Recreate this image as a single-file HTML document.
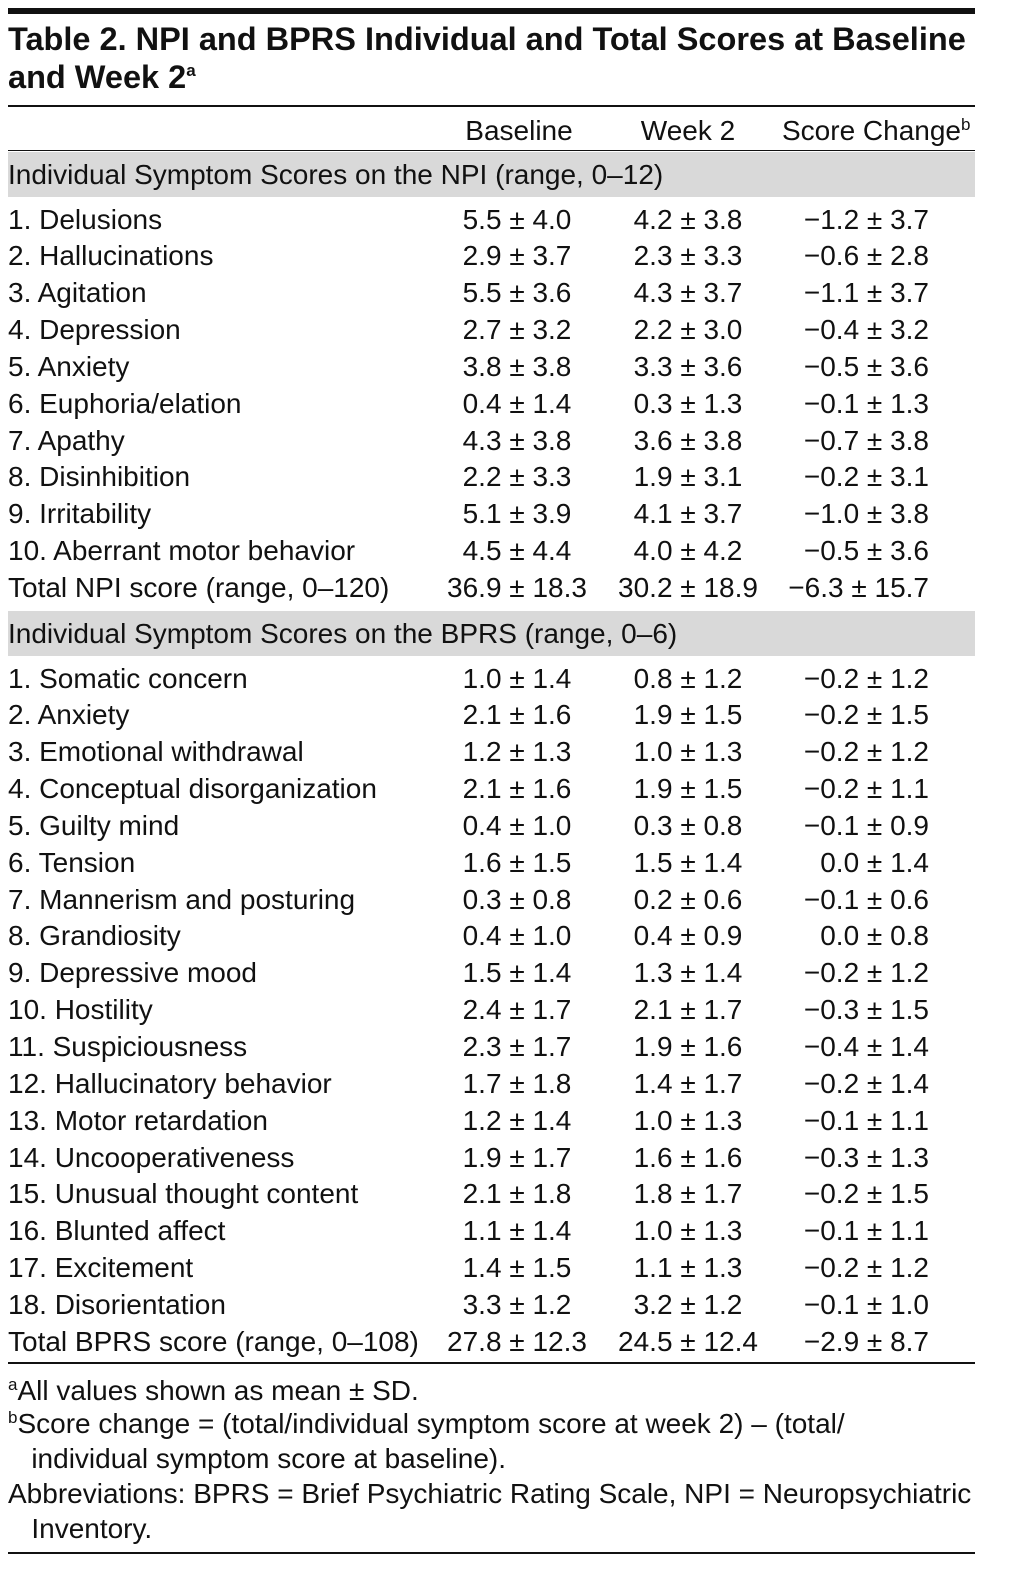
<!DOCTYPE html>
<html>
<head>
<meta charset="utf-8">
<style>
html,body{margin:0;padding:0;background:#fff;}
body{width:1012px;height:1595px;position:relative;overflow:hidden;font-family:"Liberation Sans",sans-serif;color:#111;}
.rule{position:absolute;left:8px;width:967px;background:#111;}
.t{position:absolute;white-space:nowrap;font-size:28px;line-height:37px;}
.band{position:absolute;left:8px;width:967px;background:#d9d9d9;}
.c{text-align:center;width:220px;}
.r{text-align:right;width:220px;}
sup{font-size:17px;vertical-align:top;position:relative;top:-6px;}
</style>
</head>
<body>
<div class="rule" style="top:8px;height:6px;"></div>
<div class="t" style="left:8px;top:20px;font-size:32.5px;font-weight:bold;line-height:38px;">Table 2. NPI and BPRS Individual and Total Scores at Baseline<br>and Week 2<sup>a</sup></div>
<div class="rule" style="top:105px;height:2px;"></div>
<div class="t c" style="left:409px;top:112px;">Baseline</div>
<div class="t c" style="left:578px;top:112px;">Week 2</div>
<div class="t" style="left:782px;top:112px;">Score Change<sup>b</sup></div>
<div class="rule" style="top:150px;height:1px;"></div>
<div id="rows"></div>
<div class="rule" style="top:1362px;height:2px;"></div>
<div class="t" style="left:8px;top:1372px;"><sup>a</sup>All values shown as mean ± SD.</div>
<div class="t" style="left:8px;top:1406px;line-height:35px;"><sup>b</sup>Score change = (total/individual symptom score at week 2) – (total/<br>&nbsp;&nbsp;&nbsp;individual symptom score at baseline).</div>
<div class="t" style="left:8px;top:1476px;line-height:35px;">Abbreviations: BPRS = Brief Psychiatric Rating Scale, NPI = Neuropsychiatric<br>&nbsp;&nbsp;&nbsp;Inventory.</div>
<div class="rule" style="top:1552px;height:2px;"></div>
<script>
const npiLabels=["1. Delusions","2. Hallucinations","3. Agitation","4. Depression","5. Anxiety","6. Euphoria/elation","7. Apathy","8. Disinhibition","9. Irritability","10. Aberrant motor behavior","Total NPI score (range, 0–120)"];
const npiBase=["5.5 ± 4.0","2.9 ± 3.7","5.5 ± 3.6","2.7 ± 3.2","3.8 ± 3.8","0.4 ± 1.4","4.3 ± 3.8","2.2 ± 3.3","5.1 ± 3.9","4.5 ± 4.4","36.9 ± 18.3"];
const npiWk2=["4.2 ± 3.8","2.3 ± 3.3","4.3 ± 3.7","2.2 ± 3.0","3.3 ± 3.6","0.3 ± 1.3","3.6 ± 3.8","1.9 ± 3.1","4.1 ± 3.7","4.0 ± 4.2","30.2 ± 18.9"];
const npiChg=["−1.2 ± 3.7","−0.6 ± 2.8","−1.1 ± 3.7","−0.4 ± 3.2","−0.5 ± 3.6","−0.1 ± 1.3","−0.7 ± 3.8","−0.2 ± 3.1","−1.0 ± 3.8","−0.5 ± 3.6","−6.3 ± 15.7"];
const bprsLabels=["1. Somatic concern","2. Anxiety","3. Emotional withdrawal","4. Conceptual disorganization","5. Guilty mind","6. Tension","7. Mannerism and posturing","8. Grandiosity","9. Depressive mood","10. Hostility","11. Suspiciousness","12. Hallucinatory behavior","13. Motor retardation","14. Uncooperativeness","15. Unusual thought content","16. Blunted affect","17. Excitement","18. Disorientation","Total BPRS score (range, 0–108)"];
const bprsBase=["1.0 ± 1.4","2.1 ± 1.6","1.2 ± 1.3","2.1 ± 1.6","0.4 ± 1.0","1.6 ± 1.5","0.3 ± 0.8","0.4 ± 1.0","1.5 ± 1.4","2.4 ± 1.7","2.3 ± 1.7","1.7 ± 1.8","1.2 ± 1.4","1.9 ± 1.7","2.1 ± 1.8","1.1 ± 1.4","1.4 ± 1.5","3.3 ± 1.2","27.8 ± 12.3"];
const bprsWk2=["0.8 ± 1.2","1.9 ± 1.5","1.0 ± 1.3","1.9 ± 1.5","0.3 ± 0.8","1.5 ± 1.4","0.2 ± 0.6","0.4 ± 0.9","1.3 ± 1.4","2.1 ± 1.7","1.9 ± 1.6","1.4 ± 1.7","1.0 ± 1.3","1.6 ± 1.6","1.8 ± 1.7","1.0 ± 1.3","1.1 ± 1.3","3.2 ± 1.2","24.5 ± 12.4"];
const bprsChg=["−0.2 ± 1.2","−0.2 ± 1.5","−0.2 ± 1.2","−0.2 ± 1.1","−0.1 ± 0.9","0.0 ± 1.4","−0.1 ± 0.6","0.0 ± 0.8","−0.2 ± 1.2","−0.3 ± 1.5","−0.4 ± 1.4","−0.2 ± 1.4","−0.1 ± 1.1","−0.3 ± 1.3","−0.2 ± 1.5","−0.1 ± 1.1","−0.2 ± 1.2","−0.1 ± 1.0","−2.9 ± 8.7"];
const root=document.getElementById('rows');
function cell(txt,cls,left,top,name){
  const d=document.createElement('div');
  d.className='t '+cls;d.textContent=txt;d.style.left=left+'px';d.style.top=top+'px';
  
  
  root.appendChild(d);
}
function band(top,txt,name){
  const b=document.createElement('div');
  b.className='band';b.style.top=top+'px';b.style.height='45px';
  
  
  root.appendChild(b);
  cell(txt,'',8,top+4,name+'-heading');
}
function section(labels,base,wk,chg,y0,prefix){
  for(let i=0;i<labels.length;i++){
    const cy=y0+i*36.85, top=cy-18.5;
    cell(labels[i],'',8,top,prefix+'-row-label');
    cell(base[i],'c',407,top,prefix+'-baseline-value');
    cell(wk[i],'c',578,top,prefix+'-week2-value');
    cell(chg[i],'r',709,top,prefix+'-change-value');
  }
}
band(152,'Individual Symptom Scores on the NPI (range, 0–12)','npi-section');
section(npiLabels,npiBase,npiWk2,npiChg,219,'npi');
band(611,'Individual Symptom Scores on the BPRS (range, 0–6)','bprs-section');
section(bprsLabels,bprsBase,bprsWk2,bprsChg,678,'bprs');
</script>
</body>
</html>
